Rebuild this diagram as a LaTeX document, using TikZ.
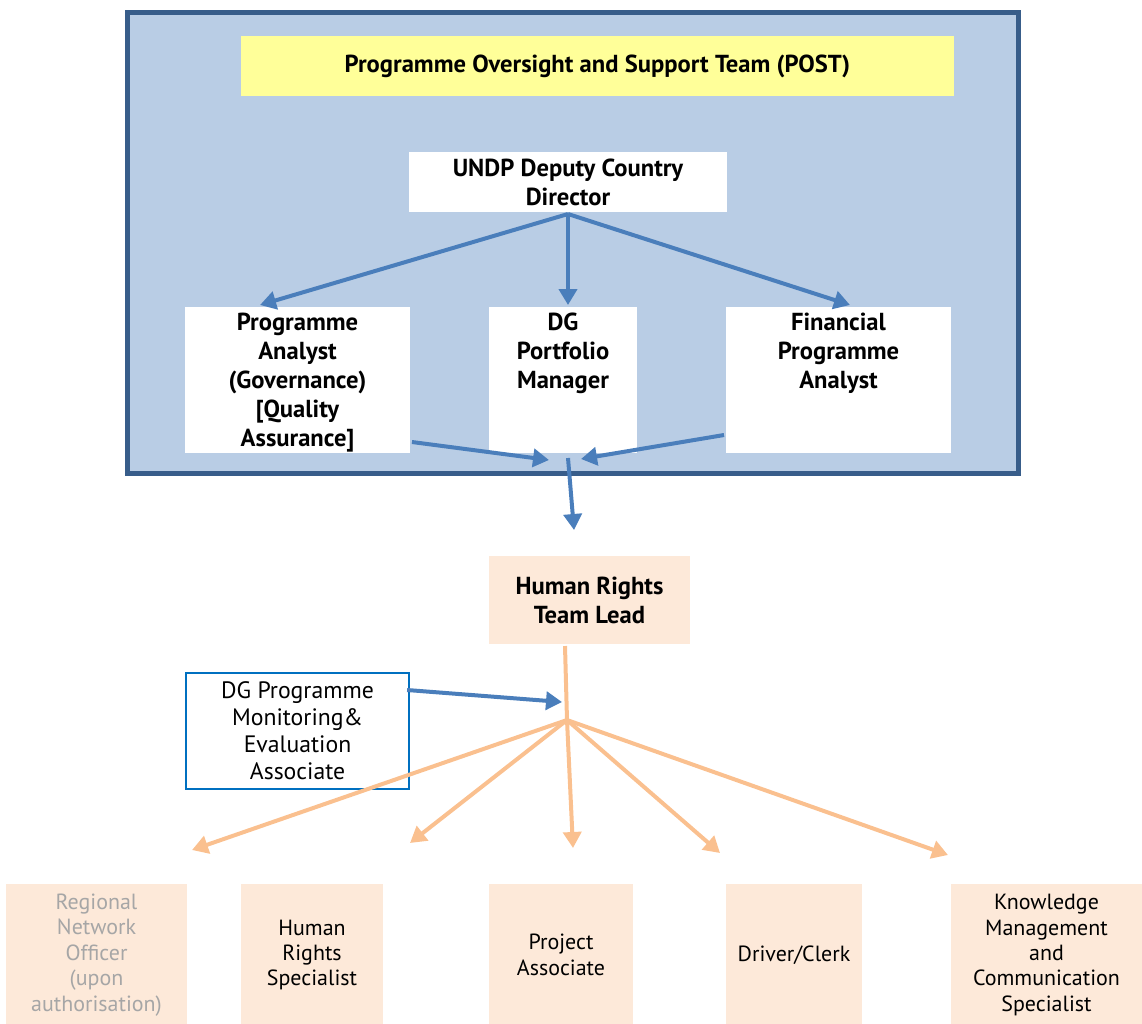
\documentclass[tikz,border=0pt]{standalone}
\usepackage{fontspec}
\setmainfont{PT Sans}
\usetikzlibrary{arrows.meta, positioning, calc}
\definecolor{postfill}{HTML}{B9CDE5}
\definecolor{postline}{HTML}{385D8A}
\definecolor{cblue}{HTML}{4A7EBB}
\definecolor{cyellow}{HTML}{FFFF99}
\definecolor{cpeach}{HTML}{FDE9D9}
\definecolor{corange}{HTML}{FAC08F}
\definecolor{cmeline}{HTML}{0070C0}
\definecolor{cgreytext}{HTML}{A6A6A6}
\tikzset{
  every picture/.style={line width=0.8mm},
  boldtxt/.style={font=\fontsize{14}{16.5}\selectfont\bfseries, align=center},
  plaintxt/.style={font=\fontsize{12.5}{14.5}\selectfont, align=center},
  wbox/.style={fill=white, inner sep=0pt, minimum width=#1},
  pbox/.style={fill=cpeach, inner sep=0pt, minimum width=#1},
  barrow/.style={-{Triangle[length=3.2mm, width=3.6mm]}, draw=cblue, line width=0.8mm},
  oarrow/.style={-{Triangle[length=3.2mm, width=3.6mm]}, draw=corange, line width=0.8mm},
  oline/.style={draw=corange, line width=0.8mm},
}

\begin{document}
\begin{tikzpicture}
  \useasboundingbox (0,0) rectangle (22.84,-20.46);
  % oversight and support team
  \node[draw=postline, fill=postfill, line width=1mm, inner sep=0pt, minimum width=17.82cm, minimum height=9.22cm] (post) at (11.45,-4.85) {};
  \node[boldtxt, fill=cyellow, minimum width=14.26cm, minimum height=1.2cm] (title) at (11.95,-1.32) {Programme Oversight and Support Team (POST)};
  \node[wbox=6.36cm, boldtxt, minimum height=1.2cm] (undp) at (11.36,-3.64) {UNDP Deputy Country\\Director};
  \node[wbox=4.5cm, minimum height=2.92cm] (pa) at (5.95,-7.6) {};
  \node[wbox=2.96cm, minimum height=2.92cm] (dg) at (11.26,-7.6) {};
  \node[wbox=4.5cm, minimum height=2.92cm] (fpa) at (16.77,-7.6) {};
  \node[boldtxt, anchor=north, inner sep=0pt] (patxt) at ($(pa.north)+(0,-0.12)$) {Programme\\Analyst\\(Governance)\\{[}Quality\\Assurance{]}};
  \node[boldtxt, anchor=north, inner sep=0pt] (dgtxt) at ($(dg.north)+(0,-0.12)$) {DG\\Portfolio\\Manager};
  \node[boldtxt, anchor=north, inner sep=0pt] (fpatxt) at ($(fpa.north)+(0,-0.12)$) {Financial\\Programme\\Analyst};
  % team lead and monitoring
  \node[pbox=4.02cm, boldtxt, minimum height=1.76cm] (tl) at (11.79,-12.0) {Human Rights\\Team Lead};
  \node[draw=cmeline, line width=0.45mm, fill=white, plaintxt, font=\fontsize{13.5}{15.4}\selectfont, inner sep=0pt, minimum width=4.46cm, minimum height=2.32cm] (me) at (5.95,-14.62) {DG Programme\\Monitoring\&\\Evaluation\\Associate};
  % team members
  \node[pbox=3.62cm, plaintxt, text=cgreytext, minimum height=2.84cm] (ro) at (1.93,-19.1) {Regional\\Network\\Officer\\(upon\\authorisation)};
  \node[pbox=2.84cm, plaintxt, minimum height=2.84cm] (hrs) at (6.24,-19.1) {Human\\Rights\\Specialist};
  \node[pbox=2.88cm, plaintxt, minimum height=2.84cm] (pas) at (11.22,-19.1) {Project\\Associate};
  \node[pbox=2.72cm, plaintxt, minimum height=2.84cm] (drv) at (15.88,-19.1) {Driver/Clerk};
  \node[pbox=3.82cm, plaintxt, minimum height=2.84cm] (km) at (20.93,-19.1) {Knowledge\\Management\\and\\Communication\\Specialist};
  % connectors
  \coordinate (hubL) at (10.98,-9.2);
  \coordinate (hubR) at (11.62,-9.18);
  \coordinate (hub) at (11.36,-9.16);
  \coordinate (split) at (11.34,-14.4);
  \coordinate (metip) at (11.24,-14.04);
  \draw[barrow] (undp.south) -- ($(pa.north)+(-0.75,0)$);
  \draw[barrow] (undp.south) -- (undp.south |- dg.north);
  \draw[barrow] (undp.south) -- ($(fpa.north)+(0.23,0)$);
  \draw[barrow] ($(pa.south east)+(0,0.26)$) -- (hubL);
  \draw[barrow] ($(fpa.south west)+(0,0.4)$) -- (hubR);
  \draw[barrow] (hub) -- ($(tl.north)+(-0.31,0.48)$);
  \draw[oline] ($(tl.south)+(-0.49,0)$) -- (split);
  \draw[barrow] ($(me.east)+(-0.06,0.82)$) -- (metip);
  \foreach \a/\dx/\dy in {ro.north east/0.06/0.64, hrs.north east/0.5/0.78, pas.north/0.24/0.68, drv.north west/-0.08/0.58, km.north west/-0.02/0.54}
    \draw[oarrow] (split) -- ($(\a)+(\dx,\dy)$);
\end{tikzpicture}
\end{document}
